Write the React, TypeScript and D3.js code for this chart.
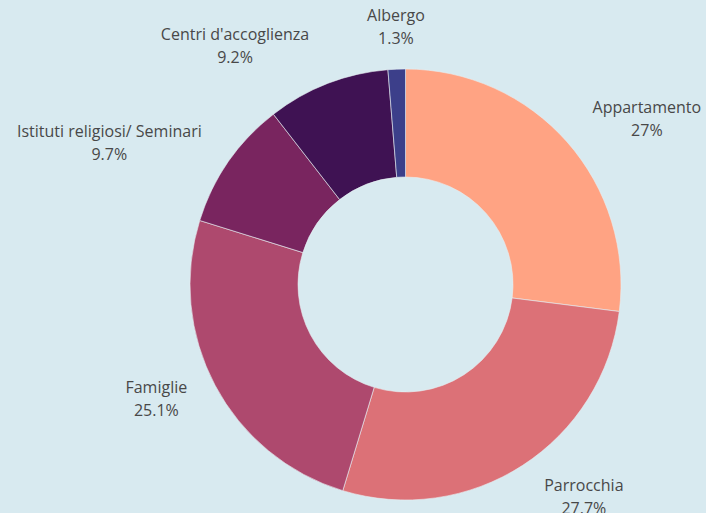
import React from "react";
import * as d3 from "d3";

const categories = ["Appartamento", "Parrocchia", "Famiglie", "Istituti religiosi/ Seminari", "Centri d'accoglienza", "Albergo"];
const values = [27, 27.7, 25.1, 9.7, 9.2, 1.3];
const valueLabels = ["27%", "27.7%", "25.1%", "9.7%", "9.2%", "1.3%"];
const colors = ["#ffa383", "#dc7177", "#ae496e", "#79255f", "#3f1253", "#3c3f8a"];

const W = 706;
const H = 513;
const BG = "#d8eaf0";

function textWidth(s: string, size: number) {
  if (typeof document === "undefined") return s.length * size * 0.5;
  const c = document.createElement("canvas").getContext("2d")!;
  c.font = `${size}px "Open Sans"`;
  return c.measureText(s).width;
}

export default function App() {
  const cx = 405.5;
  const cy = 284.5;
  const R = 215.5;
  const r = 107.5;
  const fontSize = 16;
  const lineH = 23;
  const pie = d3.pie<number>().sort(null).value((d) => d)(values);
  const arc = d3.arc<d3.PieArcDatum<number>>().innerRadius(r).outerRadius(R);
  const kLab = 234;

  const labels = pie.map((p, i) => {
    const a = (p.startAngle + p.endAngle) / 2;
    const s = Math.sin(a);
    const c = -Math.cos(a);
    const w = Math.max(textWidth(categories[i], fontSize), textWidth(valueLabels[i], fontSize));
    const h = lineH * 2;
    const dx = (s < 0 ? -1 : 1) * (w / 2 + h / 4);
    const fx = Math.max(0, Math.min(1, (Math.abs(s) - 0.1) / 0.2));
    const dy = (c < 0 ? -1 : 1) * (h / 2) * (c * c);
    return { x: cx + kLab * s + dx * fx, y: cy + kLab * c + dy, i };
  });

  return (
    <svg width={W} height={H} style={{ position: "absolute", left: 0, top: 0, background: BG }}>
      <rect x={0} y={0} width={W} height={H} fill={BG} />
      <g transform={`translate(${cx},${cy})`}>
        {pie.map((p, i) => (
          <path key={i} d={arc(p)!} fill={colors[i]} stroke="#e8eef2" strokeWidth={0.6} />
        ))}
      </g>
      {labels.map((l) => (
        <text
          key={l.i}
          x={l.x}
          y={l.y}
          textAnchor="middle"
          fontFamily="'Open Sans', sans-serif"
          fontSize={fontSize}
          fill="#484848"
        >
          <tspan x={l.x} dy={-lineH / 2 + 5}>{categories[l.i]}</tspan>
          <tspan x={l.x} dy={lineH}>{valueLabels[l.i]}</tspan>
        </text>
      ))}
    </svg>
  );
}
